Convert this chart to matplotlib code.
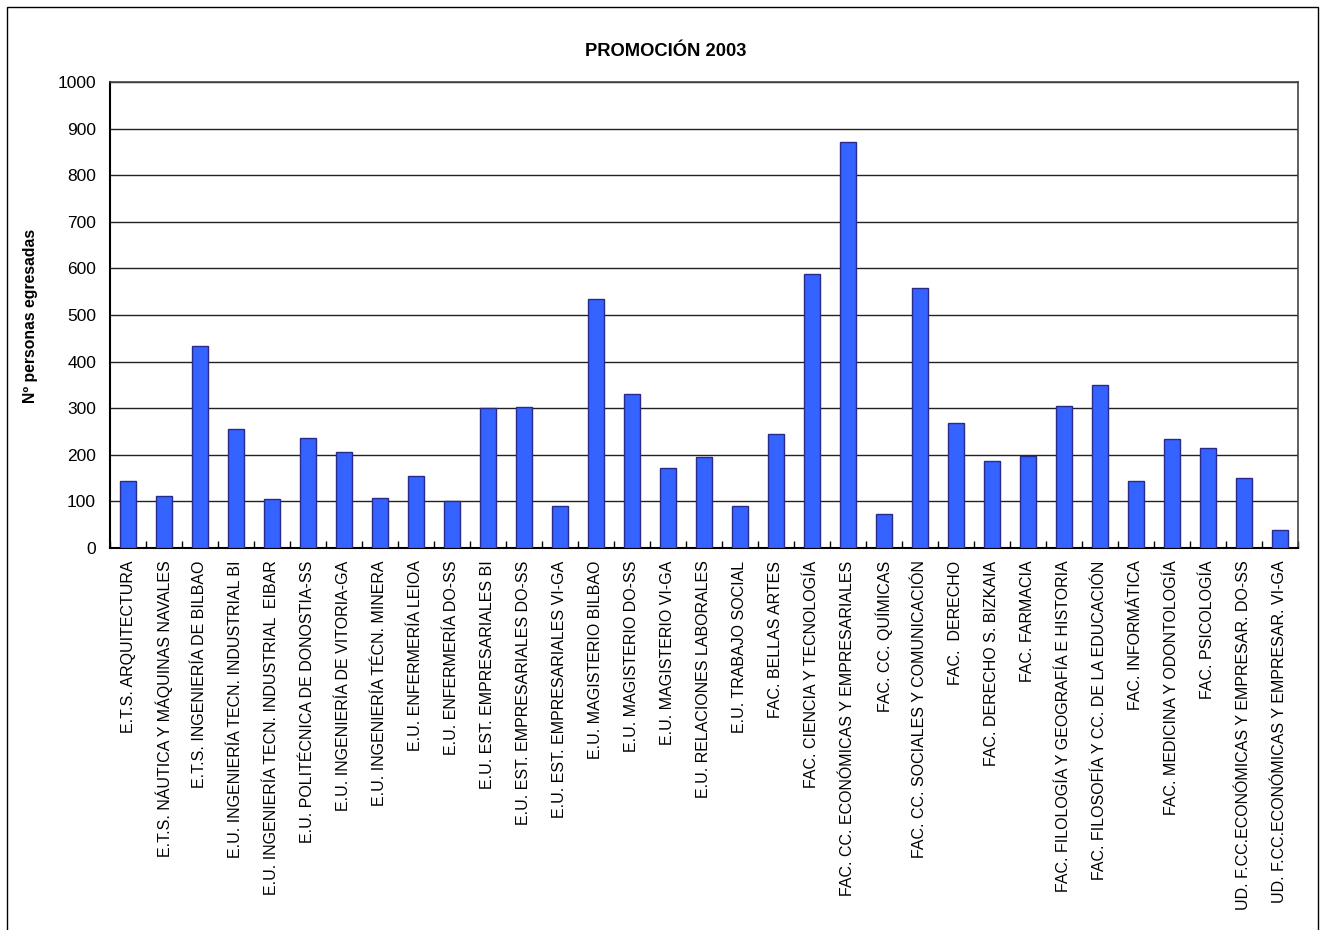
import matplotlib
matplotlib.use("Agg")
import matplotlib.pyplot as plt
from matplotlib.patches import Rectangle
import numpy as np

plt.rcParams['font.family'] = ['Liberation Sans', 'DejaVu Sans']

categories = [
    "E.T.S. ARQUITECTURA",
    "E.T.S. NÁUTICA Y MÁQUINAS NAVALES",
    "E.T.S. INGENIERÍA DE BILBAO",
    "E.U. INGENIERÍA TECN. INDUSTRIAL BI",
    "E.U. INGENIERÍA TECN. INDUSTRIAL  EIBAR",
    "E.U. POLITÉCNICA DE DONOSTIA-SS",
    "E.U. INGENIERÍA DE VITORIA-GA",
    "E.U. INGENIERÍA TÉCN. MINERA",
    "E.U. ENFERMERÍA LEIOA",
    "E.U. ENFERMERÍA DO-SS",
    "E.U. EST. EMPRESARIALES BI",
    "E.U. EST. EMPRESARIALES DO-SS",
    "E.U. EST. EMPRESARIALES VI-GA",
    "E.U. MAGISTERIO BILBAO",
    "E.U. MAGISTERIO DO-SS",
    "E.U. MAGISTERIO VI-GA",
    "E.U. RELACIONES LABORALES",
    "E.U. TRABAJO SOCIAL",
    "FAC. BELLAS ARTES",
    "FAC. CIENCIA Y TECNOLOGÍA",
    "FAC. CC. ECONÓMICAS Y EMPRESARIALES",
    "FAC. CC. QUÍMICAS",
    "FAC. CC. SOCIALES Y COMUNICACIÓN",
    "FAC.  DERECHO",
    "FAC. DERECHO S. BIZKAIA",
    "FAC. FARMACIA",
    "FAC. FILOLOGÍA Y GEOGRAFÍA E HISTORIA",
    "FAC. FILOSOFÍA Y CC. DE LA EDUCACIÓN",
    "FAC. INFORMÁTICA",
    "FAC. MEDICINA Y ODONTOLOGÍA",
    "FAC. PSICOLOGÍA",
    "UD. F.CC.ECONÓMICAS Y EMPRESAR. DO-SS",
    "UD. F.CC.ECONÓMICAS Y EMPRESAR. VI-GA",
]

values = [144, 112, 434, 255, 105, 235, 206, 108, 154, 101, 301, 303, 91,
          534, 331, 172, 196, 91, 245, 587, 872, 72, 557, 269, 186, 198,
          305, 349, 144, 233, 215, 150, 39]

yticks = [0, 100, 200, 300, 400, 500, 600, 700, 800, 900, 1000]

title = "PROMOCIÓN 2003"
ylabel = "Nº personas egresadas"

W, H = 1324, 930
fig = plt.figure(figsize=(W / 100, H / 100), dpi=100)
ax = fig.add_axes([110 / W, 1 - 548 / H, (1298 - 110) / W, (548 - 82) / H])

x = np.arange(len(categories))
ax.bar(x, values, width=0.45, color='#3563FF', edgecolor='#2A2A8A',
       linewidth=1.0, zorder=3)

ax.set_xlim(-0.5, len(categories) - 0.5)
ax.set_ylim(0, 1000)
ax.set_yticks(yticks)
ax.set_yticklabels([str(v) for v in yticks], fontsize=12.5)
ax.tick_params(axis='y', length=0, pad=10)

ax.set_xticks(x)
ax.set_xticklabels(categories, rotation=90, fontsize=11.5, va='top', ha='center')
ax.tick_params(axis='x', which='major', length=0, pad=9)
ax.set_xticks(np.arange(len(categories) + 1) - 0.5, minor=True)
ax.tick_params(axis='x', which='minor', direction='in', length=5, width=1, color='black')

ax.yaxis.grid(True, color='#222222', linewidth=1.0, zorder=0)
ax.set_axisbelow(True)
for side in ['left', 'bottom']:
    ax.spines[side].set_color('black')
    ax.spines[side].set_linewidth(1.5)
for side in ['top', 'right']:
    ax.spines[side].set_color('#444444')
    ax.spines[side].set_linewidth(1.2)

fig.text(666 / W, 1 - 52 / H, title, ha='center', va='center',
         fontsize=13.2, fontweight='bold')
fig.text(31 / W, 1 - 316 / H, ylabel, ha='center', va='center',
         rotation=90, fontsize=11.3, fontweight='bold')

fig.patches.append(Rectangle((7 / W, -0.05), (1318 - 7) / W, 1 - 7 / H + 0.05,
                             transform=fig.transFigure, fill=False,
                             edgecolor='black', linewidth=1.0))

fig.savefig("out.png", dpi=100)
